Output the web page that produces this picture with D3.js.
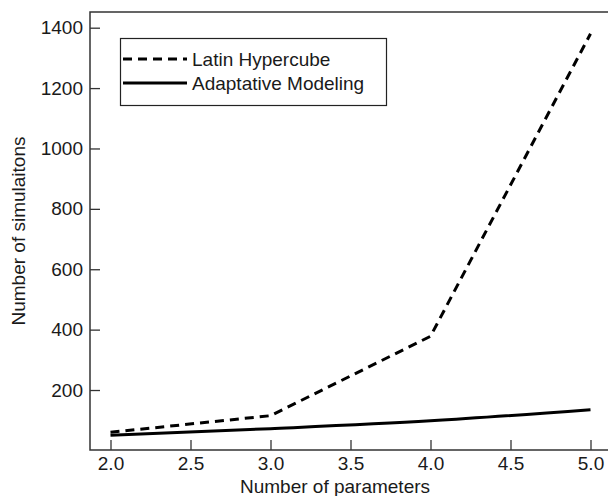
<!DOCTYPE html>
<html><head><meta charset="utf-8">
<script src="https://cdn.jsdelivr.net/npm/d3@7"></script>
<style>body{margin:0;background:#fff}svg{display:block}text{font-family:"Liberation Sans",Arial,sans-serif;fill:#1a1a1a}</style>
</head><body>
<script>
const params = [2, 3, 4, 5];
const latinHypercube = [60, 115, 378, 1380];
const adaptiveModeling = [50, 72, 98, 135];
const xTicks = [2.0, 2.5, 3.0, 3.5, 4.0, 4.5, 5.0];
const yTicks = [200, 400, 600, 800, 1000, 1200, 1400];
const seriesNames = ["Latin Hypercube", "Adaptative Modeling"];

(function () {
const W = 608, H = 496;
const svg = d3.select("body").append("svg").attr("width", W).attr("height", H);
const mLeft = 90, mTop = 12, mBottom = 450;
const x = d3.scaleLinear().domain([2, 5]).range([110.5, 590.5]);
const y = d3.scaleLinear().domain([0, 1400]).range([450.4, 27.7]);
const axisColor = "#333";

svg.append("path").attr("d", `M${W},${mTop}H${mLeft}V${mBottom}H${W}`)
  .attr("fill", "none").attr("stroke", axisColor).attr("stroke-width", 1.5);

const xAxis = svg.append("g").attr("transform", `translate(0,${mBottom})`)
  .call(d3.axisBottom(x).tickValues(xTicks).tickFormat(d3.format(".1f")).tickSizeInner(-10).tickSizeOuter(0).tickPadding(4));
xAxis.select(".domain").remove();
xAxis.selectAll("line").attr("stroke", axisColor).attr("stroke-width", 1.3);
xAxis.selectAll("text").attr("font-size", 19).attr("fill", "#1a1a1a").attr("font-family", "Liberation Sans, Arial, sans-serif").attr("dy", "0.85em");

const yAxis = svg.append("g").attr("transform", `translate(${mLeft},0)`)
  .call(d3.axisLeft(y).tickValues(yTicks).tickFormat(d3.format("d")).tickSizeInner(-10).tickSizeOuter(0).tickPadding(7));
yAxis.select(".domain").remove();
yAxis.selectAll("line").attr("stroke", axisColor).attr("stroke-width", 1.3);
yAxis.selectAll("text").attr("font-size", 19).attr("fill", "#1a1a1a").attr("font-family", "Liberation Sans, Arial, sans-serif");

svg.append("text").attr("x", 335).attr("y", 493).attr("text-anchor", "middle").attr("font-size", 19).text("Number of parameters");
svg.append("text").attr("transform", "translate(25,231) rotate(-90)").attr("text-anchor", "middle").attr("font-size", 19).text("Number of simulaitons");

const line = d3.line().x((d, i) => x(params[i])).y(d => y(d));
svg.append("path").datum(latinHypercube).attr("d", line).attr("fill", "none")
  .attr("stroke", "#000").attr("stroke-width", 3).attr("stroke-dasharray", "9,6");
svg.append("path").datum(adaptiveModeling).attr("d", line.curve(d3.curveMonotoneX)).attr("fill", "none")
  .attr("stroke", "#000").attr("stroke-width", 3);

const lg = svg.append("g");
lg.append("rect").attr("x", 120.5).attr("y", 38.5).attr("width", 266).attr("height", 67)
  .attr("fill", "#fff").attr("stroke", "#222").attr("stroke-width", 1.2);
[["9,6", 59], [null, 83]].forEach(([dash, yy], i) => {
  const l = lg.append("line").attr("x1", 123).attr("x2", 187).attr("y1", yy).attr("y2", yy)
    .attr("stroke", "#000").attr("stroke-width", 3);
  if (dash) l.attr("stroke-dasharray", dash);
  lg.append("text").attr("x", 192).attr("y", yy + 7).attr("font-size", 19).text(seriesNames[i]);
});
})();
</script>
</body></html>
